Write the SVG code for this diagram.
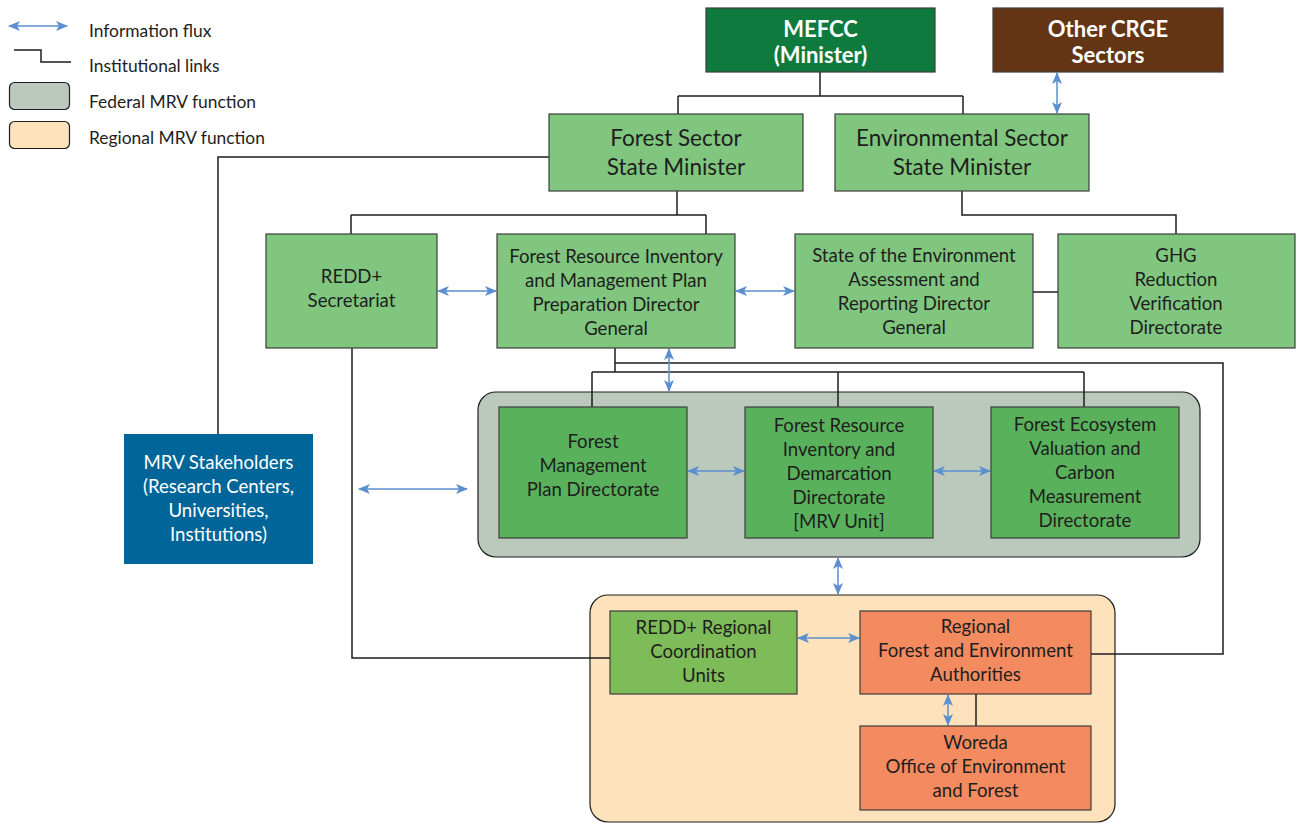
<svg xmlns="http://www.w3.org/2000/svg" width="1296" height="823" viewBox="0 0 1296 823">
<style>
text{font-family:Lato,"Liberation Sans",sans-serif;fill:#1e1e1e;text-anchor:middle}
.t{font-size:18.6px}
.big{font-size:22.5px}
.hd{font-size:22px;font-weight:bold;fill:#fff}
.wt{fill:#fff}
.lg{font-size:17.4px;text-anchor:start}
.box{stroke:#3c3c3c;stroke-width:1.2}
.lt{fill:#80c67e}
.md{fill:#5ab15b}
.rg{fill:#7ebb59}
.or{fill:#f48a5f}
.ln{fill:none;stroke:#1e1e1e;stroke-width:1.5}
.ar{fill:none;stroke:#5b8fd1;stroke-width:1.5;marker-start:url(#ah);marker-end:url(#ah)}
</style>
<defs>
<marker id="ah" viewBox="0 0 12 10" refX="11" refY="5" markerWidth="12" markerHeight="10" markerUnits="userSpaceOnUse" orient="auto-start-reverse">
<path d="M0,0 L12,5 L0,10 L3,5 z" fill="#5b8fd1"/>
</marker>
</defs>
<rect width="1296" height="823" fill="#fff"/>

<g id="legend">
<path class="ar" d="M9,26 H67"/>
<path class="ln" d="M14,50 H41 V62 H71"/>
<rect x="9.5" y="82.5" width="60" height="27" rx="5" fill="#bac9bb" stroke="#1e1e1e" stroke-width="1.2"/>
<rect x="9.5" y="121.5" width="60" height="27" rx="5" fill="#fde2bc" stroke="#1e1e1e" stroke-width="1.2"/>
<text class="lg" x="89" y="37">Information flux</text>
<text class="lg" x="89" y="72">Institutional links</text>
<text class="lg" x="89" y="108">Federal MRV function</text>
<text class="lg" x="89" y="144">Regional MRV function</text>
</g>

<g id="federal-mrv-container">
<rect x="478" y="392" width="722" height="165" rx="18" fill="#bac9bb" stroke="#1e1e1e" stroke-width="1.2"/>
</g>
<g id="regional-mrv-container">
<rect x="590" y="595" width="525" height="227" rx="18" fill="#fde2bc" stroke="#1e1e1e" stroke-width="1.2"/>
</g>

<g id="connectors">
<path class="ln" d="M820,72 V96 M678,96 H963 M678,96 V114 M963,96 V114"/>
<path class="ln" d="M549,157 H218 V434"/>
<path class="ln" d="M677,191 V215 M351,215 H706 M351,215 V234 M706,215 V234"/>
<path class="ln" d="M962,191 V215 H1176 V234"/>
<path class="ln" d="M352,348 V658 H610"/>
<path class="ln" d="M615,348 V372 M592,372 H1084 M592,372 V407 M838,372 V407 M1084,372 V407"/>
<path class="ln" d="M615,363 H1223 V654 H1091"/>
<path class="ln" d="M1033,292 H1058"/>
<path class="ln" d="M976,694 V726"/>
<path class="ar" d="M1057,73 V113"/>
<path class="ar" d="M438,291 H496"/>
<path class="ar" d="M736,291 H794"/>
<path class="ar" d="M669,349 V391"/>
<path class="ar" d="M359,489 H467"/>
<path class="ar" d="M688,471 H744"/>
<path class="ar" d="M934,471 H990"/>
<path class="ar" d="M838,558 V594"/>
<path class="ar" d="M798,638 H859"/>
<path class="ar" d="M948,695 V725"/>
</g>

<g id="mefcc">
<rect class="box" x="706" y="8" width="229" height="64" fill="#0f7a3d"/>
<text class="hd" x="820.5" y="37">MEFCC</text>
<text class="hd" x="820.5" y="63">(Minister)</text>
</g>
<g id="other-crge">
<rect class="box" x="993" y="8" width="230" height="64" fill="#633515"/>
<text class="hd" x="1108" y="37">Other CRGE</text>
<text class="hd" x="1108" y="63">Sectors</text>
</g>
<g id="forest-sector">
<rect class="box lt" x="549" y="114" width="254" height="77"/>
<text class="big" x="676" y="146">Forest Sector</text>
<text class="big" x="676" y="175">State Minister</text>
</g>
<g id="env-sector">
<rect class="box lt" x="835" y="114" width="254" height="77"/>
<text class="big" x="962" y="146">Environmental Sector</text>
<text class="big" x="962" y="175">State Minister</text>
</g>
<g id="redd-secretariat">
<rect class="box lt" x="266" y="234" width="171" height="114"/>
<text class="t" x="351.5" y="283">REDD+</text>
<text class="t" x="351.5" y="307">Secretariat</text>
</g>
<g id="frimpp">
<rect class="box lt" x="497" y="234" width="238" height="114"/>
<text class="t" x="616" y="263">Forest Resource Inventory</text>
<text class="t" x="616" y="287">and Management Plan</text>
<text class="t" x="616" y="311">Preparation Director</text>
<text class="t" x="616" y="335">General</text>
</g>
<g id="state-env">
<rect class="box lt" x="795" y="234" width="238" height="114"/>
<text class="t" x="914" y="262">State of the Environment</text>
<text class="t" x="914" y="286">Assessment and</text>
<text class="t" x="914" y="310">Reporting Director</text>
<text class="t" x="914" y="334">General</text>
</g>
<g id="ghg">
<rect class="box lt" x="1058" y="234" width="237" height="114"/>
<text class="t" x="1176" y="262">GHG</text>
<text class="t" x="1176" y="286">Reduction</text>
<text class="t" x="1176" y="310">Verification</text>
<text class="t" x="1176" y="334">Directorate</text>
</g>
<g id="mrv-stakeholders">
<rect x="124" y="434" width="189" height="130" fill="#006699"/>
<text class="t wt" x="218.5" y="469">MRV Stakeholders</text>
<text class="t wt" x="218.5" y="493">(Research Centers,</text>
<text class="t wt" x="218.5" y="517">Universities,</text>
<text class="t wt" x="218.5" y="541">Institutions)</text>
</g>
<g id="fmpd">
<rect class="box md" x="499" y="407" width="188" height="131"/>
<text class="t" x="593" y="448">Forest</text>
<text class="t" x="593" y="472">Management</text>
<text class="t" x="593" y="496">Plan Directorate</text>
</g>
<g id="frid">
<rect class="box md" x="745" y="407" width="188" height="131"/>
<text class="t" x="839" y="432">Forest Resource</text>
<text class="t" x="839" y="456">Inventory and</text>
<text class="t" x="839" y="480">Demarcation</text>
<text class="t" x="839" y="504">Directorate</text>
<text class="t" x="839" y="528">[MRV Unit]</text>
</g>
<g id="fevcmd">
<rect class="box md" x="991" y="407" width="188" height="131"/>
<text class="t" x="1085" y="431">Forest Ecosystem</text>
<text class="t" x="1085" y="455">Valuation and</text>
<text class="t" x="1085" y="479">Carbon</text>
<text class="t" x="1085" y="503">Measurement</text>
<text class="t" x="1085" y="527">Directorate</text>
</g>
<g id="redd-regional">
<rect class="box rg" x="610" y="611" width="187" height="83"/>
<text class="t" x="703.5" y="634">REDD+ Regional</text>
<text class="t" x="703.5" y="658">Coordination</text>
<text class="t" x="703.5" y="682">Units</text>
</g>
<g id="regional-authorities">
<rect class="box or" x="860" y="611" width="231" height="83"/>
<text class="t" x="975.5" y="633">Regional</text>
<text class="t" x="975.5" y="657">Forest and Environment</text>
<text class="t" x="975.5" y="681">Authorities</text>
</g>
<g id="woreda">
<rect class="box or" x="860" y="726" width="231" height="84"/>
<text class="t" x="975.5" y="749">Woreda</text>
<text class="t" x="975.5" y="773">Office of Environment</text>
<text class="t" x="975.5" y="797">and Forest</text>
</g>
</svg>
